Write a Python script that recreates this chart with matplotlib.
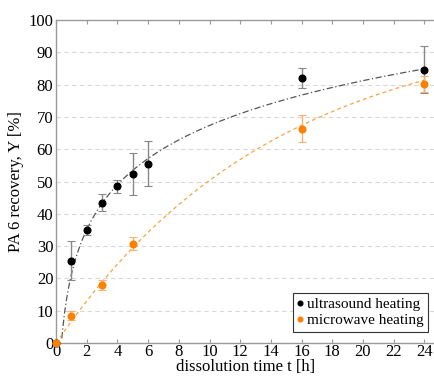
import numpy as np
import matplotlib
matplotlib.use("Agg")
import matplotlib.pyplot as plt

plt.rcParams['font.family'] = ['Liberation Serif', 'DejaVu Serif']

# ultrasound heating
t_us = [0, 1, 2, 3, 4, 5, 6, 16, 24]
y_us = [0, 25.5, 35.0, 43.5, 48.5, 52.2, 55.5, 82.0, 84.6]
e_us = [0, 6.0, 1.5, 2.5, 2.0, 6.5, 7.0, 3.0, 7.3]

# microwave heating
t_mw = [0, 1, 3, 5, 16, 24]
y_mw = [0, 8.5, 18.0, 30.8, 66.3, 80.3]
e_mw = [0, 1.5, 1.5, 2.0, 4.2, 2.5]

# fit curves: log fit for ultrasound, saturation fit for microwave
a_us, b_us = 20.0, 21.3
A_mw, k_mw = 100.0, 0.07

fig = plt.figure(figsize=(4.35, 3.77), dpi=100)
ax = fig.add_axes([0.129, 0.090, 0.871, 0.857])

tt = np.linspace(0.01, 24, 400)
yy = a_us * np.log(tt) + b_us
ax.plot(tt[yy >= 0], yy[yy >= 0], color='#555555', lw=0.9, ls=(0, (5, 2, 1, 2)), zorder=2)
tt2 = np.linspace(0, 24, 400)
ax.plot(tt2, A_mw * (1 - np.exp(-k_mw * tt2)), color='#f7a440', lw=0.9, ls=(0, (3, 2.5)), zorder=2)

ax.errorbar(t_us, y_us, yerr=e_us, fmt='none', ecolor='#888888',
            elinewidth=1.0, capsize=3, capthick=0.8, zorder=3, clip_on=False)
ax.errorbar(t_mw, y_mw, yerr=e_mw, fmt='none', ecolor='#f9b070',
            elinewidth=1.0, capsize=3, capthick=0.8, zorder=3, clip_on=False)
ax.plot(t_us, y_us, 'o', color='black', ms=4.8, label='ultrasound heating', zorder=4, clip_on=False)
ax.plot(t_mw, y_mw, 'o', color='#ff8000', ms=4.8, label='microwave heating', zorder=5, clip_on=False)

ax.set_xlim(0, 24.7)
ax.set_ylim(0, 100)
ax.set_xticks(range(0, 25, 2))
ax.set_yticks(range(0, 101, 10))
for y in range(10, 100, 10):
    ax.axhline(y, color='#d8d8d8', lw=0.8, ls=(0, (4, 3)), zorder=1)

for s in ['left', 'bottom', 'top']:
    ax.spines[s].set_color('#999999')
    ax.spines[s].set_linewidth(1.0)
ax.spines['right'].set_visible(False)
ax.tick_params(axis='x', direction='in', top=True, length=3, color='#999999',
               labelsize=12, pad=1)
ax.tick_params(axis='y', direction='in', length=0, labelsize=12, pad=2)

ax.set_xlabel('dissolution time t [h]', fontsize=12, labelpad=-1)
ax.set_ylabel('PA 6 recovery, Y [%]', fontsize=12, labelpad=3)

leg = ax.legend(loc='lower right', bbox_to_anchor=(0.99, 0.025), fontsize=11,
                handlelength=0.3, handletextpad=0.3, borderpad=0.3, labelspacing=0.15,
                borderaxespad=0.2, fancybox=False, edgecolor='#333333', framealpha=1,
                markerscale=0.7)
leg.get_frame().set_linewidth(0.8)

fig.savefig('out.png', dpi=100)
